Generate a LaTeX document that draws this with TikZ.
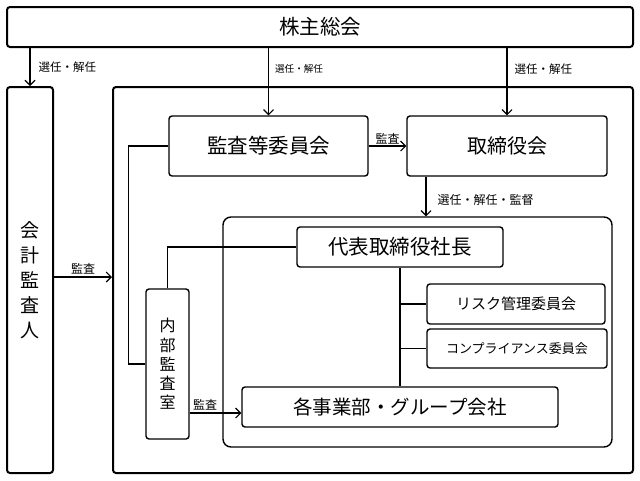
\documentclass[tikz,border=0pt]{standalone}
\usepackage{fontspec}
\setmainfont{Noto Sans CJK JP}
\usetikzlibrary{arrows.meta}

\begin{document}
\begin{tikzpicture}[x=1pt, y=-1pt,
        box/.style={draw, line width=1.4pt, rounded corners=3pt, inner sep=0pt},
        outerbox/.style={box, line width=2pt},
        link/.style={line width=1.1pt},
        arr/.style={link, -{Straight Barb[length=5pt, width=10pt, line width=1.1pt]}},
        lbl/.style={inner sep=0pt, font=\fontsize{12}{14}\selectfont}]

        \useasboundingbox (0,0) rectangle (640,480);

        \node[outerbox, minimum width=626pt, minimum height=40pt,
              font=\fontsize{20.5}{24}\selectfont] (kabunushi) at (320,27) {株主総会};

        \node[outerbox, minimum width=46pt, minimum height=386pt, align=center,
              font=\fontsize{19}{25}\selectfont] (kaikei) at (30,280) {会\\計\\監\\査\\人};

        \node[outerbox, minimum width=520pt, minimum height=386pt] (kaisha) at (373,280) {};

        \node[box, minimum width=199pt, minimum height=60pt,
              font=\fontsize{20.5}{24}\selectfont] (kansa) at (268.5,146) {監査等委員会};

        \node[box, minimum width=200pt, minimum height=60pt,
              font=\fontsize{20}{24}\selectfont] (torishimari) at (507,146) {取締役会};

        \node[box, rounded corners=8pt, minimum width=389pt, minimum height=230pt] (shikkou) at (417.5,332) {};

        \node[box, minimum width=206pt, minimum height=40pt,
              font=\fontsize{20.5}{24}\selectfont] (daihyo) at (400,247) {代表取締役社長};

        \node[box, minimum width=178pt, minimum height=40pt,
              font=\fontsize{15}{18}\selectfont] (risk) at (516,304) {リスク管理委員会};

        \node[box, minimum width=180pt, minimum height=39pt,
              font=\fontsize{13}{16}\selectfont] (comp) at (517,348.5) {コンプライアンス委員会};

        \node[box, minimum width=316pt, minimum height=40pt,
              font=\fontsize{19.5}{24}\selectfont] (jigyo) at (400,407) {各事業部・グループ会社};

        \node[box, minimum width=43pt, minimum height=150pt, align=center,
              font=\fontsize{16}{19.3}\selectfont] (naibu) at (167.5,364) {内\\部\\監\\査\\室};

        % #######################################

        \draw[arr] (kabunushi.south -| kaikei.north) --
            node[lbl, right=8pt, midway, font=\fontsize{11.5}{14}\selectfont] {選任・解任} (kaikei.north);
        \draw[arr] (kabunushi.south -| kansa.north) --
            node[lbl, right=6pt, pos=0.31, font=\fontsize{9.6}{12}\selectfont] {選任・解任} (kansa.north);
        \draw[arr] (kabunushi.south -| torishimari.north) --
            node[lbl, right=7pt, pos=0.32, font=\fontsize{11.5}{14}\selectfont] {選任・解任} (torishimari.north);

        \draw[arr] (kansa.east) -- node[lbl, above=1pt, midway] {監査} (torishimari.west);
        \draw[arr] ([xshift=-81pt]torishimari.south) --
            node[lbl, right=11pt, pos=0.59] {選任・解任・監督}
            ([xshift=-81pt]torishimari.south |- shikkou.north);

        \draw[arr] ([yshift=3pt]kaikei.east) -- node[lbl, above=2pt, midway] {監査}
            ([yshift=3pt]kaikei.east -| kaisha.west);

        \draw[link] (kansa.west) -- ++(-40,0) |- (naibu.west);
        \draw[link] (naibu.north) |- (daihyo.west);
        \draw[arr] ([yshift=-6pt]jigyo.west -| naibu.east) --
            node[lbl, above=2pt, pos=0.3] {監査} ([yshift=-6pt]jigyo.west);

        \draw[link] (daihyo.south) -- (jigyo.north);
        \draw[link] (daihyo.south |- risk.west) -- (risk.west);
        \draw[link] (daihyo.south |- comp.west) -- (comp.west);

    \end{tikzpicture}
\end{document}
